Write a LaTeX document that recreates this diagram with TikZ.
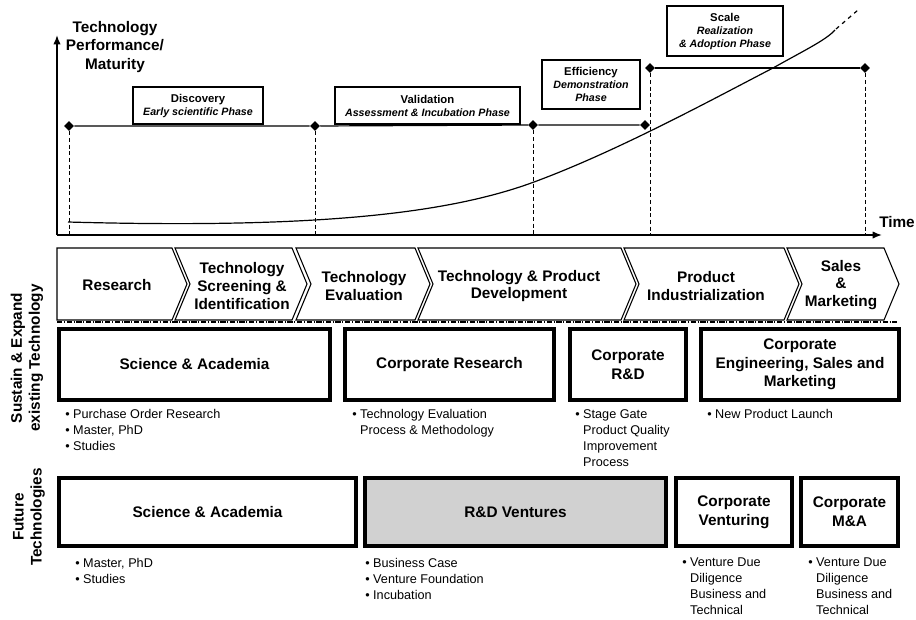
\documentclass[tikz,border=0pt]{standalone}
\usepackage{fontspec}
\setmainfont{Liberation Sans}
\usetikzlibrary{shapes.geometric,arrows.meta}
\newcommand{\bul}{\textbullet\ }
\newcommand{\bulind}{\hphantom{\textbullet\ }}

\begin{document}
\begin{tikzpicture}[x=0.75pt,y=-0.75pt,
    milestone/.style={diamond,fill=black,inner sep=0pt,minimum size=7.5pt},
    phasebox/.style={draw,line width=0.8pt,fill=white,align=center,inner sep=0pt,
        font=\fontsize{8.5}{9.75}\selectfont\bfseries},
    stage/.style={align=center,font=\fontsize{11.5}{13.4}\selectfont\bfseries},
    unit/.style={draw,line width=2.4pt,align=center,inner sep=0pt,
        font=\fontsize{11.5}{14}\selectfont\bfseries},
    notes/.style={anchor=north west,align=left,inner sep=0pt,
        font=\fontsize{9.5}{12}\selectfont},
    side/.style={rotate=90,align=center,font=\fontsize{11.5}{13.6}\selectfont\bfseries}]
    \useasboundingbox (0,0) rectangle (916,619);

    % axes
    \coordinate (origin) at (57,235);
    \coordinate (ytop) at (57,35);
    \coordinate (xend) at (882,235);
    \draw[line width=1.1pt,-{Latex[length=7pt,width=5.5pt]}] (origin) -- (ytop);
    \draw[line width=1.1pt,-{Latex[length=7pt,width=5.5pt]}] (origin) -- (xend);
    \node[align=center,font=\fontsize{11.5}{13.8}\selectfont\bfseries] (ylabel) at (115,47) {Technology\\Performance/\\Maturity};
    \node[font=\fontsize{11.5}{13.8}\selectfont\bfseries] (time) at (897,222) {Time};

    % maturity curve
    \draw[line width=0.9pt] (68,222) .. controls (320,229) and (450,213) .. (534,182)
        .. controls (618,151) and (715,98) .. (773,68)
        .. controls (805,50) and (826,40) .. (835,30);
    \draw[line width=0.9pt,dashed] (836,29) -- (858,10);

    % milestones
    \node[milestone] (d1) at (69,126) {};
    \node[milestone] (d2) at (315,126) {};
    \node[milestone] (d3) at (533,125) {};
    \node[milestone] (d4) at (645,125) {};
    \node[milestone] (d5) at (650,68) {};
    \node[milestone] (d6) at (865,68) {};
    \draw[line width=0.9pt] (d1) -- (d2) -- (d3) -- (d4);
    \draw[line width=0.9pt] (d5) -- (d6);
    \foreach \m in {d1,d2,d3,d5,d6}
        \draw[line width=0.7pt,dash pattern=on 3pt off 2pt] (\m) -- (\m |- origin);

    % phases
    \node[phasebox,minimum width=97.5pt,minimum height=27.75pt] (discovery) at (198,105.5) {Discovery\\{\fontsize{8}{9.75}\selectfont\itshape Early scientific Phase}};
    \node[phasebox,minimum width=138.75pt,minimum height=27.75pt] (validation) at (427.5,105.5) {Validation\\{\fontsize{8}{9.75}\selectfont\itshape Assessment \& Incubation Phase}};
    \node[phasebox,minimum width=73.5pt,minimum height=36.75pt] (efficiency) at (591,84.5) {Efficiency\\{\fontsize{8}{9.75}\selectfont\itshape Demonstration}\\{\fontsize{8}{9.75}\selectfont\itshape Phase}};
    \node[phasebox,minimum width=87pt,minimum height=37.5pt] (scale) at (725,31) {Scale\\{\fontsize{8}{9.75}\selectfont\itshape Realization}\\{\fontsize{8}{9.75}\selectfont\itshape \& Adoption Phase}};

    % value chain
    \draw[line width=0.8pt] (57,248) -- (172,248) -- (187,284) -- (172,320) -- (57,320) -- cycle;
    \foreach \l/\r in {175/292, 296/415, 418/621, 624/784, 787/884}
        \draw[line width=0.8pt] (\l,248) -- (\r,248) -- (\r+15,284) -- (\r,320) -- (\l,320) -- (\l+15,284) -- cycle;
    \node[stage] (research) at (117,285) {Research};
    \node[stage] (screening) at (242,286) {Technology\\Screening \&\\Identification};
    \node[stage] (evaluation) at (364,286) {Technology\\Evaluation};
    \node[stage] (development) at (519,286) {Technology \& Product\\Development};
    \node[stage] (industrial) at (706,286) {Product\\Industrialization};
    \node[stage] (sales) at (841,285) {Sales\\\&\\Marketing};
    \draw[line width=0.9pt,dash pattern=on 4pt off 1.2pt on 0.8pt off 1.2pt] (57,322) -- (897,322);

    % sustain & expand
    \node[side] (sustain) at (27,358) {Sustain \& Expand\\existing Technology};
    \node[unit,minimum width=203.25pt,minimum height=53.25pt] (sci1) at (194.5,364.5) {Science \& Academia};
    \node[unit,minimum width=156.75pt,minimum height=53.25pt] (corpres) at (449.5,364.5) {Corporate Research};
    \node[unit,minimum width=87pt,minimum height=53.25pt] (corprd) at (628,364.5) {Corporate\\R\&D};
    \node[unit,minimum width=148.5pt,minimum height=53.25pt] (corpeng) at (800,364.5) {Corporate\\Engineering, Sales and\\Marketing};
    \node[notes] (sci1notes) at (65,409) {\bul Purchase Order Research\\\bul Master, PhD\\\bul Studies};
    \node[notes] (corpresnotes) at (352,409) {\bul Technology Evaluation\\\bulind Process \& Methodology};
    \node[notes] (corprdnotes) at (575,409) {\bul Stage Gate\\\bulind Product Quality\\\bulind Improvement\\\bulind Process};
    \node[notes] (corpengnotes) at (707,409) {\bul New Product Launch};

    % future technologies
    \node[side] (future) at (29,517) {Future\\Technologies};
    \node[unit,minimum width=222.75pt,minimum height=51pt] (sci2) at (207.5,512) {Science \& Academia};
    \node[unit,minimum width=225.75pt,minimum height=51pt,fill=black!18] (rdv) at (515.5,512) {R\&D Ventures};
    \node[unit,minimum width=87pt,minimum height=51pt] (corpven) at (734,512) {Corporate\\Venturing};
    \node[unit,minimum width=72.75pt,minimum height=51pt] (corpma) at (849.5,512) {Corporate\\M\&A};
    \node[notes] (sci2notes) at (75,558) {\bul Master, PhD\\\bul Studies};
    \node[notes] (rdvnotes) at (365,558) {\bul Business Case\\\bul Venture Foundation\\\bul Incubation};
    \node[notes] (corpvennotes) at (682,558) {\bul Venture Due\\\bulind Diligence\\\bulind Business and\\\bulind Technical};
    \node[notes] (corpmanotes) at (808,558) {\bul Venture Due\\\bulind Diligence\\\bulind Business and\\\bulind Technical};
\end{tikzpicture}
\end{document}
